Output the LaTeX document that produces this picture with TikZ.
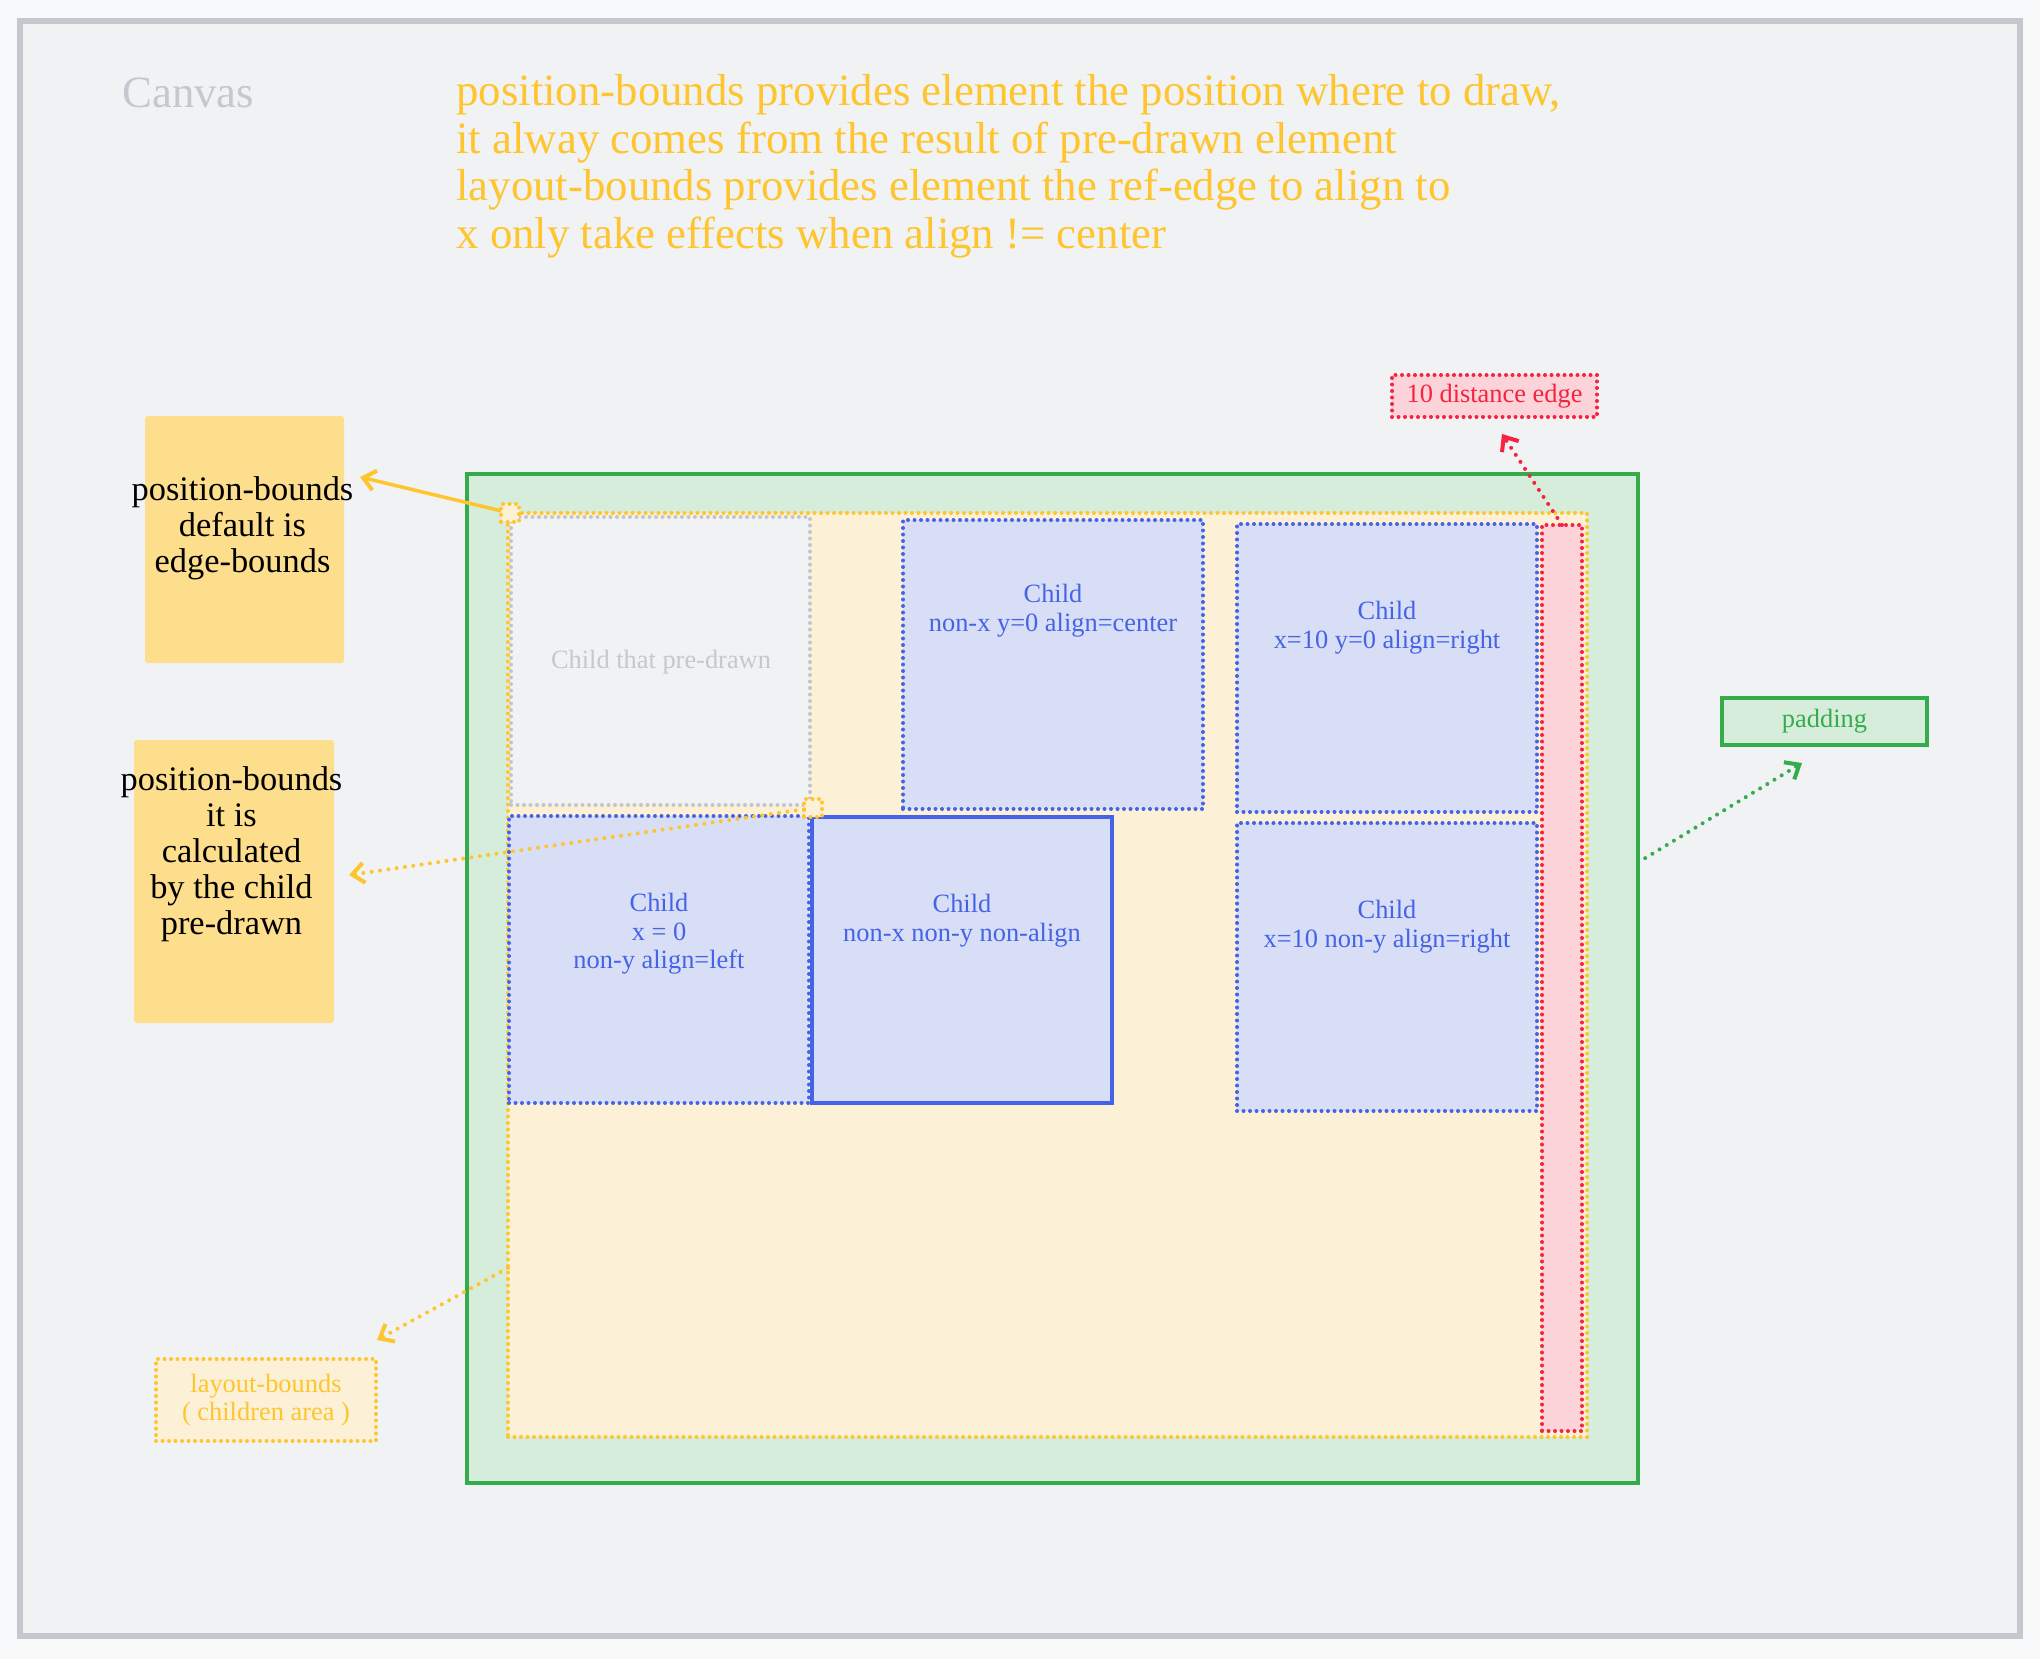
\documentclass[tikz,border=0pt]{standalone}
\usepackage{fontspec}
\setmainfont{Liberation Serif}
\usetikzlibrary{arrows.meta,fit,calc}

\definecolor{pagebg}{HTML}{F8F9FA}
\definecolor{canvasbg}{HTML}{F1F2F4}
\definecolor{canvasline}{HTML}{C3C7CE}
\definecolor{mutedtext}{HTML}{C4C8CF}
\definecolor{amber}{HTML}{FFC52E}
\definecolor{notefill}{HTML}{FDDE8C}
\definecolor{cream}{HTML}{FCF1D7}
\definecolor{padgreen}{HTML}{34AC4E}
\definecolor{padfill}{HTML}{D6EDDB}
\definecolor{childblue}{HTML}{4563E6}
\definecolor{childfill}{HTML}{D9DEF7}
\definecolor{edgered}{HTML}{F6223F}
\definecolor{edgefill}{HTML}{FCD3D9}
\definecolor{predrawn}{HTML}{C3C5CA}

\newcommand{\bigfont}{\fontsize{22.4pt}{23.75pt}\selectfont}
\newcommand{\notefont}{\fontsize{17.2pt}{18pt}\selectfont}
\newcommand{\smallfont}{\fontsize{13.2pt}{14.25pt}\selectfont}

\begin{document}
\begin{tikzpicture}[x=0.5pt,y=-0.5pt,
  area/.style={rectangle, inner sep=0pt, outer sep=0pt},
  dots/.style={line width=2pt, line cap=round, dash pattern=on 0pt off 3.25pt},
  dotarrow/.style={line width=2pt, line cap=round, dash pattern=on 0pt off 4.2pt},
  barb/.style={-{Straight Barb[length=6pt,width=10pt,line width=2pt]}},
  childbox/.style={area, fill=childfill, draw=childblue, dots},
  childtext/.style={inner sep=0pt, anchor=north, align=center, text=childblue, font=\smallfont},
  notebox/.style={area, fill=notefill, rounded corners=1.5pt},
  notetext/.style={inner sep=0pt, anchor=north, align=center, text=black, font=\notefont},
  marker/.style={area, fill=cream, draw=amber, dots, minimum size=9pt}
]
% page and canvas
\useasboundingbox (0,0) rectangle (2040,1659);
\fill[pagebg] (0,0) rectangle (2040,1659);
\node[area, fit={(20,21) (2020,1636)}, fill=canvasbg, draw=canvasline, line width=2.75pt] (canvas) {};

% headings
\node[inner sep=0pt, anchor=base west, text=mutedtext, font=\bigfont] (canvaslabel) at (122,108) {Canvas};
\node[inner sep=0pt, anchor=north west, align=left, text=amber, font=\bigfont] (summary) at (456,74.5)
  {position-bounds provides element the position where to draw,\\
   it alway comes from the result of pre-drawn element\\
   layout-bounds provides element the ref-edge to align to\\
   x only take effects when align != center};

% side notes
\node[notebox, fit={(145,416) (344,663)}] (note1) {};
\node[notetext] (note1text) at (242.5,476.5) {position-bounds\\default is\\edge-bounds};
\node[notebox, fit={(134,740) (334,1023)}] (note2) {};
\node[notetext] (note2text) at (231.5,766.5) {position-bounds\\it is\\calculated\\by the child\\pre-drawn};

% element with padding and its layout bounds
\node[area, fit={(467,474) (1638,1483)}, fill=padfill, draw=padgreen, line width=2pt] (element) {};
\node[area, fit={(508,513) (1587,1437)}, fill=cream, draw=amber, dots] (layout) {};

% child drawn before
\node[area, fit={(511,517) (810,805)}, fill=canvasbg, draw=predrawn, dots] (pre) {};
\node[inner sep=0pt, anchor=base, text=mutedtext, font=\smallfont] (pretext) at (661,668) {Child that pre-drawn};

% distance strip at the right edge
\node[area, fit={(1542,525) (1582,1431)}, fill=edgefill, draw=edgered, dots] (gap) {};

% children
\node[childbox, fit={(903,520) (1203,809)}] (ctop) {};
\node[childtext] (ctoptext) at (1053,584) {Child\\non-x y=0 align=center};
\node[childbox, fit={(1237,524) (1537,812)}] (ctr) {};
\node[childtext] (ctrtext) at (1387,601) {Child\\x=10 y=0 align=right};
\node[childbox, fit={(1237,823) (1537,1111)}] (cbr) {};
\node[childtext] (cbrtext) at (1387,900) {Child\\x=10 non-y align=right};
\node[childbox, fit={(509,816) (809,1103)}] (cleft) {};
\node[childtext] (clefttext) at (659,893) {Child\\x = 0\\non-y align=left};
\node[area, fit={(812,817) (1112,1103)}, fill=childfill, draw=childblue, line width=1.75pt] (cfree) {};
\node[childtext] (cfreetext) at (962,894) {Child\\non-x non-y non-align};

% position markers
\node[marker] (mk1) at (510,513) {};
\node[marker] (mk2) at (813,808) {};

% labels
\node[area, minimum width=110pt, minimum height=41pt, fill=cream, draw=amber, dots, align=center,
      text=amber, font=\smallfont] (layoutlabel) at (266,1400) {layout-bounds\\( children area )};
\node[area, minimum width=102.5pt, minimum height=21pt, fill=edgefill, draw=edgered, dots,
      text=edgered, font=\smallfont] (gaplabel) at (1494.5,396) {10 distance edge};
\node[area, minimum width=102.5pt, minimum height=23.5pt, fill=padfill, draw=padgreen, line width=2pt,
      text=padgreen, font=\smallfont] (padlabel) at (1824.5,721.5) {padding};

% arrow ends
\coordinate (tip1) at (360,477);
\coordinate (tip2) at (349,875);
\coordinate (tip3) at (377,1340);
\coordinate (tip4) at (1502,434);
\coordinate (tip5) at (1802,763);

% connectors
\draw[amber, line width=1.75pt, barb] (mk1) -- (tip1);
\draw[amber, dotarrow, barb] (mk2) -- (tip2);
\draw[amber, dotarrow, barb] ($(layout.north west)!0.817!(layout.south west)$) -- (tip3);
\draw[edgered, dotarrow, barb] (gap.north) -- (tip4);
\draw[padgreen, dotarrow, barb] ($(element.north east)!0.385!(element.south east)$) -- (tip5);
\end{tikzpicture}
\end{document}
